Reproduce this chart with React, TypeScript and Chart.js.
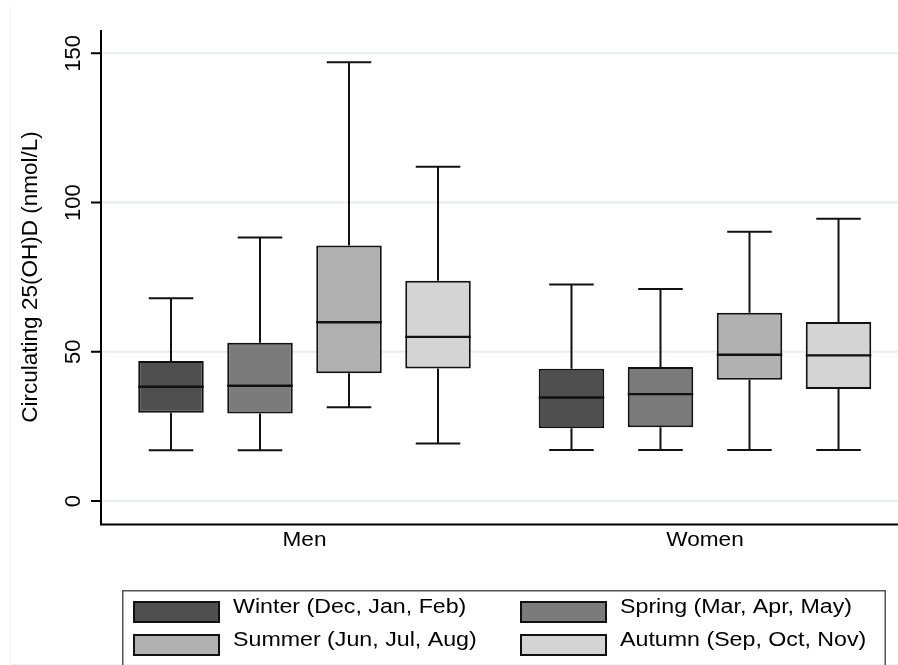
import React, { useEffect, useRef } from 'react';
import { Chart, registerables } from 'chart.js';

Chart.register(...registerables);

// ---------- data ----------
const groupLabels = ['Men', 'Women'];
const seasonLabels = [
  'Winter (Dec, Jan, Feb)',
  'Spring (Mar, Apr, May)',
  'Summer (Jun, Jul, Aug)',
  'Autumn (Sep, Oct, Nov)',
];
const seasonColors = ['#4f4f4f', '#7b7b7b', '#b1b1b1', '#d4d4d4'];
// rows: Winter, Spring, Summer, Autumn; columns: Men, Women
const minValues = [[17.0, 17.1], [17.0, 17.1], [31.4, 17.1], [19.3, 17.1]];
const q1Values = [[29.6, 24.4], [29.3, 24.7], [42.8, 40.6], [44.4, 37.5]];
const medianValues = [[38.3, 34.7], [38.6, 35.8], [59.9, 49.0], [55.0, 48.8]];
const q3Values = [[46.9, 44.3], [53.0, 44.9], [85.6, 63.1], [73.8, 60.0]];
const maxValues = [[67.9, 72.5], [88.3, 71.0], [147.0, 90.2], [112.0, 94.6]];
const yTicks = [0, 50, 100, 150];
const yTitle = 'Circulating 25(OH)D (nmol/L)';

const FONT = '"Liberation Sans", Arial, Helvetica, sans-serif';

function drawText(
  ctx: CanvasRenderingContext2D,
  text: string,
  x: number,
  y: number,
  size: number,
  sx: number,
  rotate: boolean,
  align: CanvasTextAlign = 'center'
) {
  ctx.save();
  ctx.translate(x, y);
  ctx.scale(sx, 1);
  if (rotate) ctx.rotate(-Math.PI / 2);
  ctx.font = `${size}px ${FONT}`;
  ctx.textAlign = align;
  ctx.textBaseline = 'middle';
  ctx.fillStyle = '#000';
  ctx.fillText(text, 0, 0);
  ctx.restore();
}

const boxPlugin = {
  id: 'boxplotExtras',
  beforeDatasetsDraw(chart: any) {
    const { ctx, chartArea, scales } = chart;
    const y = scales.y;
    const axisX = chartArea.left - 3.25;
    ctx.save();
    // faint outer frame
    ctx.strokeStyle = '#edf1f3';
    ctx.lineWidth = 1;
    ctx.beginPath();
    ctx.moveTo(10.5, 7);
    ctx.lineTo(10.5, 664.5);
    ctx.lineTo(chart.width, 664.5);
    ctx.stroke();
    // gridlines
    ctx.strokeStyle = '#e6edf0';
    ctx.lineWidth = 2;
    yTicks.forEach((v) => {
      const py = y.getPixelForValue(v);
      ctx.beginPath();
      ctx.moveTo(axisX, py);
      ctx.lineTo(chart.width, py);
      ctx.stroke();
    });
    ctx.restore();
  },
  afterDatasetsDraw(chart: any) {
    const { ctx, chartArea, scales } = chart;
    const y = scales.y;
    const x = scales.x;
    ctx.save();
    ctx.strokeStyle = '#111';
    ctx.lineCap = 'butt';
    seasonLabels.forEach((_, s) => {
      const meta = chart.getDatasetMeta(s);
      meta.data.forEach((bar: any, g: number) => {
        const cx = bar.x;
        const w = bar.width;
        const cap = w * 0.34;
        const pMin = y.getPixelForValue(minValues[s][g]);
        const pQ1 = y.getPixelForValue(q1Values[s][g]);
        const pMed = y.getPixelForValue(medianValues[s][g]);
        const pQ3 = y.getPixelForValue(q3Values[s][g]);
        const pMax = y.getPixelForValue(maxValues[s][g]);
        ctx.lineWidth = 2;
        ctx.beginPath();
        ctx.moveTo(cx, pQ3);
        ctx.lineTo(cx, pMax);
        ctx.moveTo(cx - cap, pMax);
        ctx.lineTo(cx + cap, pMax);
        ctx.moveTo(cx, pQ1);
        ctx.lineTo(cx, pMin);
        ctx.moveTo(cx - cap, pMin);
        ctx.lineTo(cx + cap, pMin);
        ctx.stroke();
        ctx.lineWidth = 2.4;
        ctx.beginPath();
        ctx.moveTo(cx - w / 2, pMed);
        ctx.lineTo(cx + w / 2, pMed);
        ctx.stroke();
      });
    });

    // axes
    const axisX = chartArea.left - 3.25;
    ctx.strokeStyle = '#000';
    ctx.lineWidth = 2;
    ctx.beginPath();
    ctx.moveTo(axisX, chartArea.top);
    ctx.lineTo(axisX, chartArea.bottom + 1.5);
    ctx.moveTo(axisX - 1, chartArea.bottom + 0.5);
    ctx.lineTo(chart.width, chartArea.bottom + 0.5);
    yTicks.forEach((v) => {
      const py = y.getPixelForValue(v);
      ctx.moveTo(axisX - 10, py);
      ctx.lineTo(axisX, py);
    });
    ctx.stroke();

    // y tick labels
    yTicks.forEach((v) => {
      drawText(ctx, String(v), axisX - 26.6, y.getPixelForValue(v), 22, 1, true);
    });
    // y title
    drawText(ctx, yTitle, axisX - 70.7, (chartArea.top + chartArea.bottom) / 2, 22.5, 1, true);

    // x labels
    groupLabels.forEach((lab, i) => {
      drawText(ctx, lab, x.getPixelForTick(i), chartArea.bottom + 16.3, 20, 1.13, false);
    });

    // legend
    ctx.strokeStyle = '#555';
    ctx.lineWidth = 1.5;
    ctx.strokeRect(122.75, 590.75, 762.5, 120);
    const colX = [133, 520];
    const rowY = [601, 634];
    seasonLabels.forEach((lab, s) => {
      const cxp = colX[s % 2];
      const ryp = rowY[Math.floor(s / 2)];
      ctx.fillStyle = seasonColors[s];
      ctx.fillRect(cxp, ryp, 87, 22);
      ctx.strokeStyle = '#111';
      ctx.lineWidth = 2;
      ctx.strokeRect(cxp + 1, ryp + 1, 85, 20);
      drawText(ctx, lab, cxp + 100, ryp + 6.6, 20, 1.16, false, 'left');
    });
    ctx.restore();
  },
};

export default function App() {
  const canvasRef = useRef<HTMLCanvasElement | null>(null);

  useEffect(() => {
    const canvas = canvasRef.current;
    if (!canvas) return;
    const chart = new Chart(canvas, {
      type: 'bar',
      data: {
        labels: groupLabels,
        datasets: seasonLabels.map((label, s) => ({
          label,
          data: groupLabels.map((_, g) => [q1Values[s][g], q3Values[s][g]]),
          backgroundColor: seasonColors[s],
          borderColor: '#111',
          borderWidth: 2,
          borderSkipped: false,
          categoryPercentage: 0.889,
          barPercentage: 0.736,
        })) as any,
      },
      options: {
        responsive: false,
        animation: false,
        events: [],
        layout: { padding: { left: 104.25, right: 0.75, top: 30, bottom: 141 } },
        plugins: {
          legend: { display: false },
          tooltip: { enabled: false },
        },
        scales: {
          x: {
            type: 'category',
            grid: { display: false, drawTicks: false },
            border: { display: false },
            ticks: { display: false },
          },
          y: {
            min: -7.7,
            max: 157.8,
            afterBuildTicks: (scale: any) => {
              scale.ticks = yTicks.map((v) => ({ value: v }));
            },
            grid: { display: false, drawTicks: false },
            border: { display: false },
            ticks: { display: false },
          },
        },
      },
      plugins: [boxPlugin],
    });
    return () => chart.destroy();
  }, []);

  return (
    <div
      style={{
        position: 'absolute',
        left: 0,
        top: 0,
        width: 898,
        height: 665,
        overflow: 'hidden',
        background: '#fff',
      }}
    >
      <canvas ref={canvasRef} width={906} height={665} style={{ display: 'block', width: 906, height: 665 }} />
    </div>
  );
}
